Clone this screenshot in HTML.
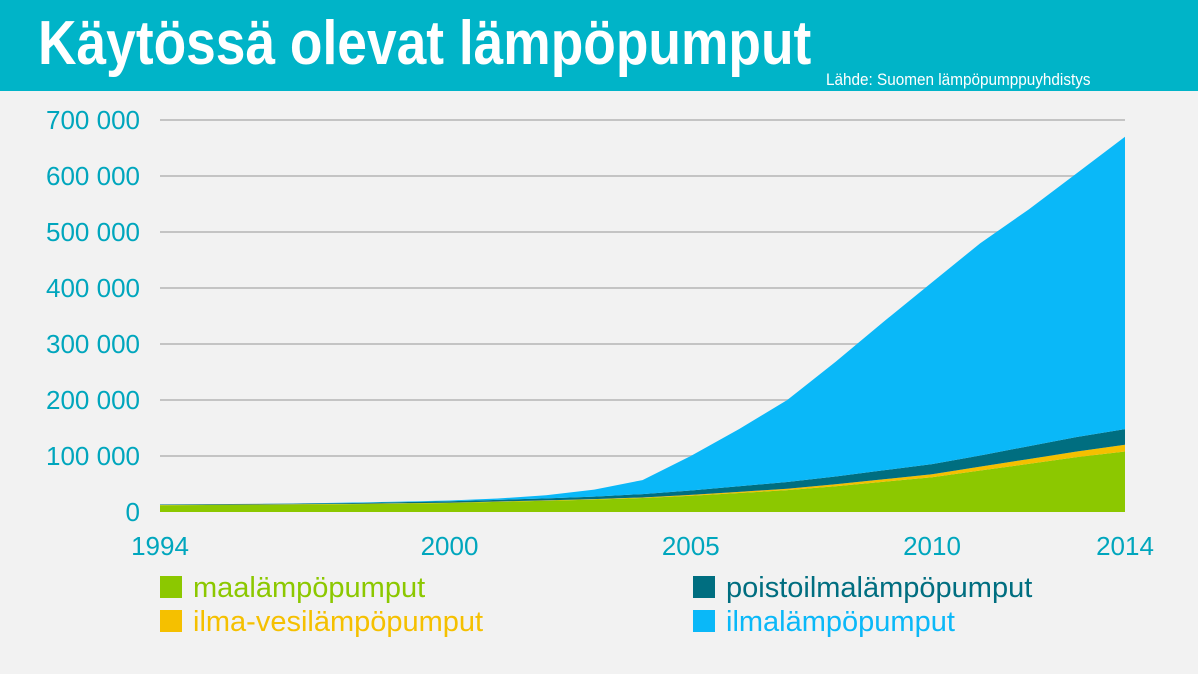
<!DOCTYPE html>
<html><head><meta charset="utf-8"><style>
body{margin:0;width:1198px;height:674px;background:#f2f2f2;font-family:"Liberation Sans Narrow","Liberation Sans",sans-serif;overflow:hidden;position:relative}
.hdr{position:absolute;left:0;top:0;width:1198px;height:91px;background:#00b4c8}
.title{position:absolute;left:38px;top:8px;font-size:62px;font-weight:bold;color:#fff;white-space:nowrap;transform-origin:0 0;transform:scaleX(0.86)}
.src{position:absolute;left:826px;top:70px;font-size:17px;color:#fff;white-space:nowrap;transform-origin:0 0;transform:scaleX(0.9)}
svg{position:absolute;left:0;top:0}
</style></head><body>
<div class="hdr"></div>
<div class="title">Käytössä olevat lämpöpumput</div>
<div class="src">Lähde: Suomen lämpöpumppuyhdistys</div>
<svg id="c" width="1198" height="674"></svg>
<script>
const years=[1994,1995,1996,1997,1998,1999,2000,2001,2002,2003,2004,2005,2006,2007,2008,2009,2010,2011,2012,2013,2014];
const maalampo=[12000,12500,13000,13500,14000,15000,16000,18000,20000,22000,25000,29000,34000,39000,46000,54000,62000,74000,86000,98000,108000];
const ilmavesi=[500,500,500,500,500,600,600,700,800,900,1000,1500,2000,2500,3500,4500,5500,7000,8500,10000,12000];
const poistoilma=[1000,1000,1000,1200,1500,2000,2500,3000,3500,4500,6000,8000,10000,12000,14000,16000,18000,20000,23000,26000,28000];
const ilmalampo=[0,0,0,300,1000,1000,1500,2300,5700,12600,25000,61500,102000,146500,204500,265500,324500,379000,422500,471000,522000];
const yTicks=[0,100000,200000,300000,400000,500000,600000,700000];
const yTickLabels=["0","100 000","200 000","300 000","400 000","500 000","600 000","700 000"];
const xTicks=[1994,2000,2005,2010,2014];
const NS="http://www.w3.org/2000/svg";
const svg=document.getElementById('c');
const X=y=>160+(y-1994)*(1125-160)/20;
const Y=v=>512-v*(392/700000);
const TEAL="#00a6bd";
function mk(t,a){const e=document.createElementNS(NS,t);for(const k in a)e.setAttribute(k,a[k]);svg.appendChild(e);return e;}
yTicks.forEach((v,i)=>{
 if(v>0){const l=mk('line',{x1:160,x2:1125,y1:Y(v),y2:Y(v),stroke:'#c4c4c4','stroke-width':2});
 
 }
 const t=mk('text',{x:140,y:Y(v)+9,'text-anchor':'end','font-size':26,fill:TEAL,'font-family':'Liberation Sans Narrow, Liberation Sans, sans-serif'});
 t.textContent=yTickLabels[i];
 
 
});
const series=[[maalampo,'#8cc800','maalampo-area'],[ilmavesi,'#f5c000','ilma-vesi-area'],[poistoilma,'#006e80','poistoilma-area'],[ilmalampo,'#0ab8f8','ilmalampo-area']];
let base=years.map(()=>0);
series.forEach(([d,c,n])=>{
 const top=base.map((b,i)=>b+d[i]);
 let p='M'+years.map((y,i)=>X(y)+','+Y(top[i])).join('L');
 for(let i=years.length-1;i>=0;i--)p+='L'+X(years[i])+','+Y(base[i]);
 const e=mk('path',{d:p+'Z',fill:c});
 
 
 base=top;
});
xTicks.forEach(y=>{
 const t=mk('text',{x:X(y),y:555,'text-anchor':'middle','font-size':26,fill:TEAL,'font-family':'Liberation Sans Narrow, Liberation Sans, sans-serif'});
 t.textContent=y;
 
 
});
const legend=[['maalämpöpumput','#8cc800',160,587,'#8cc800'],['ilma-vesilämpöpumput','#f5c000',160,621,'#f5c000'],['poistoilmalämpöpumput','#006e80',693,587,'#006e80'],['ilmalämpöpumput','#0ab8f8',693,621,'#0ab8f8']];
legend.forEach(([l,c,x,y,tc])=>{
 const r=mk('rect',{x:x,y:y-11,width:22,height:22,fill:c});
 
 
 const t=mk('text',{x:x+33,y:y+10,'font-size':29,fill:tc,'font-family':'Liberation Sans Narrow, Liberation Sans, sans-serif'});
 t.textContent=l;
 
 
});
</script>
</body></html>
